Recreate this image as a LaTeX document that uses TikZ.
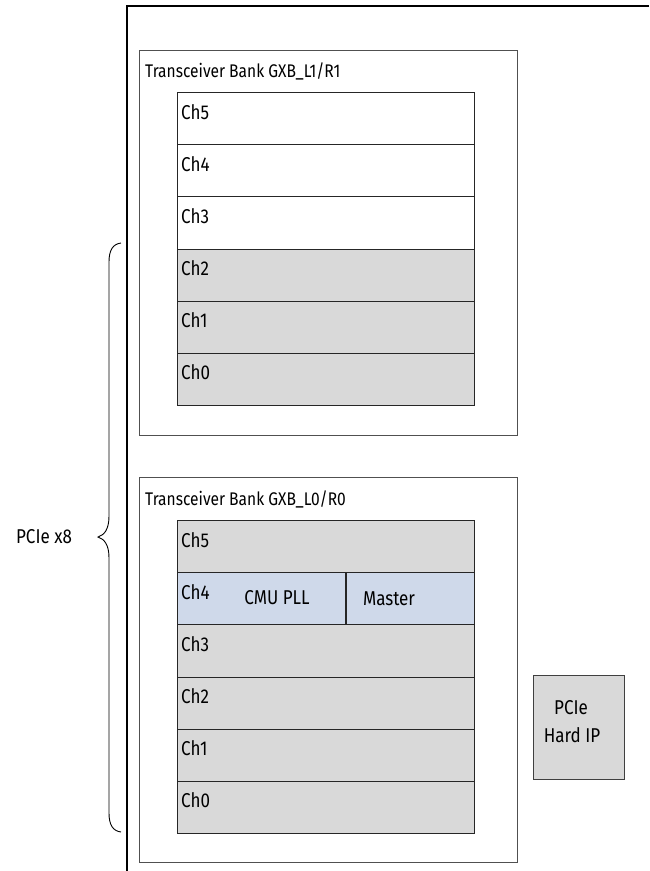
\documentclass[tikz,border=0pt]{standalone}
\usepackage{fontspec}
\setmainfont{Fira Sans}[FakeStretch=0.85]
\definecolor{chgrey}{HTML}{D9D9D9}
\definecolor{chblue}{HTML}{CFD9EA}
\definecolor{bankline}{HTML}{505050}
\tikzset{
  bankbox/.style={draw=bankline, line width=1.1pt, fill=white, anchor=north west, inner sep=0pt, minimum width=378pt, minimum height=385pt},
  chrow/.style={draw=black!85, line width=1.1pt, anchor=north west, inner sep=0pt, minimum width=297pt, minimum height=52.17pt},
  txt/.style={font=\fontsize{20}{22}\selectfont, inner sep=0pt, text=black},
  banklab/.style={txt, font=\fontsize{18.3}{20}\selectfont, anchor=base west},
  chlab/.style={txt, anchor=base west},
}
\begin{document}
\begin{tikzpicture}[x=1pt,y=-1pt]
\useasboundingbox (0,0) rectangle (649,871);
% outer frame
\coordinate (ftop) at (649,6);
\coordinate (fcorner) at (127,6);
\coordinate (fbot) at (127,871);
\draw[line width=1.3pt] (ftop) -- (fcorner) -- (fbot);

% upper bank
\node[bankbox] (bank1) at (139,50) {};
\node[banklab] (bank1lab) at (145,77) {Transceiver Bank GXB\_L1/R1};
\foreach \i/\n/\c in {0/5/white,1/4/white,2/3/white,3/2/chgrey,4/1/chgrey,5/0/chgrey}{
  \node[chrow, fill=\c] (u\n) at (177,92+52.17*\i) {};
  \node[chlab] (u\n lab) at (181,92+52.17*\i+27) {Ch\n};
}

% lower bank
\node[bankbox] (bank0) at (139,477) {};
\node[banklab] (bank0lab) at (145,505) {Transceiver Bank GXB\_L0/R0};
\foreach \i/\n/\c in {0/5/chgrey,1/4/chblue,2/3/chgrey,3/2/chgrey,4/1/chgrey,5/0/chgrey}{
  \node[chrow, fill=\c] (l\n) at (177,520+52.17*\i) {};
  \node[chlab] (l\n lab) at (181,520+52.17*\i+27) {Ch\n};
}
\coordinate (divtop) at (346,572.17);
\coordinate (divbot) at (346,624.34);
\draw[black!85, line width=1.1pt] (divtop) -- (divbot);
\node[txt, anchor=base] (cmu) at (277,604) {CMU PLL};
\node[txt, anchor=base] (master) at (389,605) {Master};

% PCIe Hard IP
\node[draw=black!75, line width=1.1pt, fill=chgrey, anchor=north west, inner sep=0pt, minimum width=91pt, minimum height=104pt] (hip) at (533,675) {};
\node[txt, anchor=base] (hip1) at (571,714) {PCIe};
\node[txt, anchor=base] (hip2) at (572,742) {Hard IP};

% brace
\coordinate (bt) at (121,243);
\coordinate (bm) at (98,537);
\coordinate (bb) at (121,832);
\draw[line width=0.9pt] (bt) .. controls (113,244) and (109,250) .. (109,262)
  -- (109,516) .. controls (109,530) and (104,535) .. (bm)
  .. controls (104,539) and (109,544) .. (109,558)
  -- (109,813) .. controls (109,825) and (113,831) .. (bb);
\node[txt, anchor=base] (pcie8) at (44,543) {PCIe x8};
\end{tikzpicture}
\end{document}
